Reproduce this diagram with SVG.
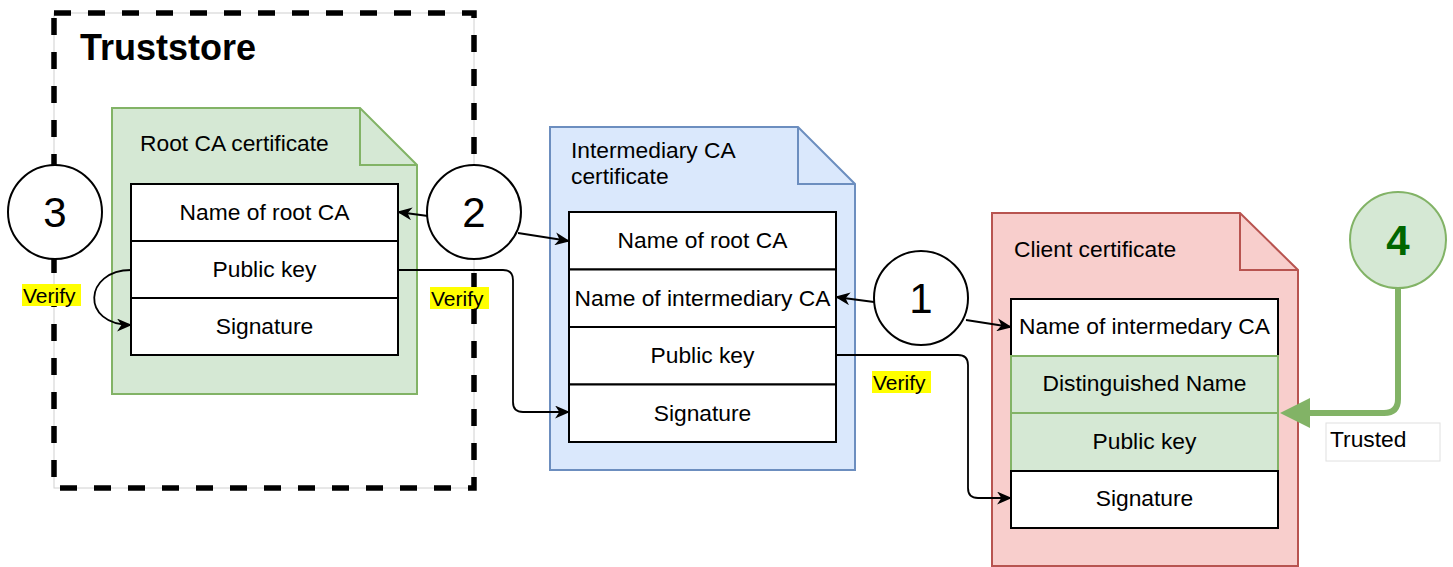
<svg xmlns="http://www.w3.org/2000/svg" width="1453" height="567" viewBox="0 0 1453 567">
<style>
text{font-family:"Liberation Sans",Arial,Helvetica,sans-serif;fill:#000}
.t{font-size:22.8px}
.c{text-anchor:middle}
.row{fill:#fff;stroke:#000;stroke-width:2}
.grow{fill:#d5e8d4;stroke:#82b366;stroke-width:2}
.circ{fill:#fff;stroke:#000;stroke-width:2}
.num{font-size:42px;text-anchor:middle}
.conn{fill:none;stroke:#000;stroke-width:1.8}
.hl{fill:#ffff00}
.v{font-size:21px}
</style>
<defs>
<marker id="arr" viewBox="0 0 14 12" refX="13" refY="6" markerWidth="15" markerHeight="13" orient="auto" markerUnits="userSpaceOnUse">
<path d="M0,0 L14,6 L0,12 L4,6 z" fill="#000"/>
</marker>
</defs>

<g id="truststore">
<rect x="54" y="13" width="420" height="475" fill="none" stroke="#d0d0d0" stroke-width="1"/>
<rect x="54" y="13" width="420" height="475" fill="none" stroke="#000" stroke-width="5.5" stroke-dasharray="17,17"/>
<text x="80" y="60" font-size="36" font-weight="bold">Truststore</text>
</g>

<g id="root-ca">
<path d="M112,108 L360,108 L417,165 L417,394 L112,394 Z" fill="#d5e8d4" stroke="#82b366" stroke-width="2"/>
<path d="M360,108 L360,165 L417,165" fill="none" stroke="#82b366" stroke-width="2"/>
<text class="t" x="140" y="151">Root CA certificate</text>
<rect class="row" x="131" y="184" width="267" height="57"/>
<rect class="row" x="131" y="241" width="267" height="57"/>
<rect class="row" x="131" y="298" width="267" height="57"/>
<text class="t c" x="264.5" y="220">Name of root CA</text>
<text class="t c" x="264.5" y="277">Public key</text>
<text class="t c" x="264.5" y="334">Signature</text>
</g>

<g id="intermediary-ca">
<path d="M550,127 L798,127 L855,184 L855,470 L550,470 Z" fill="#dae8fc" stroke="#6c8ebf" stroke-width="2"/>
<path d="M798,127 L798,184 L855,184" fill="none" stroke="#6c8ebf" stroke-width="2"/>
<text class="t" x="571" y="158">Intermediary CA</text>
<text class="t" x="571" y="184">certificate</text>
<rect class="row" x="569" y="212" width="267" height="57.5"/>
<rect class="row" x="569" y="269.5" width="267" height="57.5"/>
<rect class="row" x="569" y="327" width="267" height="57.5"/>
<rect class="row" x="569" y="384.5" width="267" height="57.5"/>
<text class="t c" x="702.5" y="248">Name of root CA</text>
<text class="t c" x="702.5" y="306">Name of intermediary CA</text>
<text class="t c" x="702.5" y="363">Public key</text>
<text class="t c" x="702.5" y="421">Signature</text>
</g>

<g id="client">
<path d="M992,213 L1240,213 L1298,270 L1298,566 L992,566 Z" fill="#f8cecc" stroke="#b85450" stroke-width="2"/>
<path d="M1240,213 L1240,270 L1298,270" fill="none" stroke="#b85450" stroke-width="2"/>
<text class="t" x="1014" y="257">Client certificate</text>
<rect class="row" x="1011" y="299" width="267" height="57"/>
<rect class="grow" x="1011" y="356" width="267" height="57"/>
<rect class="grow" x="1011" y="413" width="267" height="58"/>
<rect class="row" x="1011" y="471" width="267" height="57"/>
<text class="t c" x="1144.5" y="334">Name of intermedary CA</text>
<text class="t c" x="1144.5" y="391">Distinguished Name</text>
<text class="t c" x="1144.5" y="449">Public key</text>
<text class="t c" x="1144.5" y="506">Signature</text>
</g>

<g id="connectors">
<path class="conn" d="M131,270 C84,270 80,325 131,325" marker-end="url(#arr)"/>
<path class="conn" d="M398,270 L503,270 Q513,270 513,280 L513,402 Q513,412 523,412 L569,412" marker-end="url(#arr)"/>
<path class="conn" d="M836,355 L958,355 Q968,355 968,365 L968,488 Q968,498 978,498 L1011,498" marker-end="url(#arr)"/>
<path class="conn" d="M428,216 L398,212" marker-end="url(#arr)"/>
<path class="conn" d="M518,233 L569,241" marker-end="url(#arr)"/>
<path class="conn" d="M874,302 L836,297" marker-end="url(#arr)"/>
<path class="conn" d="M966,320 L1011,327" marker-end="url(#arr)"/>
<path d="M1398,288 L1398,399 Q1398,413 1384,413 L1306,413" fill="none" stroke="#82b366" stroke-width="6"/>
<polygon points="1280,413 1310,398 1310,428" fill="#82b366"/>
</g>

<g id="label-verify-1">
<rect class="hl" x="22" y="284" width="59" height="22"/>
<text class="v" x="23" y="303">Verify</text>
</g>
<g id="label-verify-2">
<rect class="hl" x="430" y="287" width="59" height="22"/>
<text class="v" x="431" y="306">Verify</text>
</g>
<g id="label-verify-3">
<rect class="hl" x="872" y="371" width="59" height="22"/>
<text class="v" x="873" y="390">Verify</text>
</g>

<g id="step-3">
<circle class="circ" cx="55" cy="212" r="47"/>
<text class="num" x="55" y="227">3</text>
</g>
<g id="step-2">
<circle class="circ" cx="474" cy="212" r="47"/>
<text class="num" x="474" y="227">2</text>
</g>
<g id="step-1">
<circle class="circ" cx="921" cy="298" r="47"/>
<text class="num" x="921" y="313">1</text>
</g>
<g id="step-4">
<circle cx="1398" cy="240" r="48" fill="#d5e8d4" stroke="#82b366" stroke-width="2"/>
<text class="num" x="1398" y="255" font-weight="bold" style="fill:#006600">4</text>
</g>

<g id="label-trusted">
<rect x="1326" y="423" width="114" height="38" fill="#fff" stroke="#e0e0e0" stroke-width="1"/>
<text class="t" x="1330" y="447">Trusted</text>
</g>
</svg>
